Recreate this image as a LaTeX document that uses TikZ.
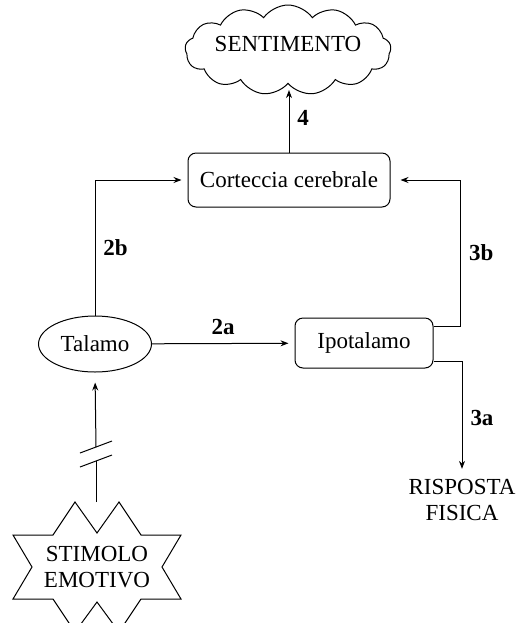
\documentclass[tikz,border=0pt]{standalone}
\usepackage{fontspec}
\setmainfont{Liberation Serif}
\usetikzlibrary{arrows.meta,shapes.geometric,shapes.symbols,positioning}

\begin{document}
\begin{tikzpicture}[
    x=0.5pt, y=-0.5pt,
    font=\fontsize{11.5}{13}\selectfont,
    box/.style={draw, rectangle, rounded corners=4pt, align=center,
                line width=0.5pt, inner sep=2pt},
    oval/.style={draw, ellipse, align=center, line width=0.5pt, inner sep=1pt},
    nuvola/.style={draw, cloud, cloud puffs=13, cloud puff arc=110,
                   cloud ignores aspect, align=center, line width=0.5pt,
                   inner sep=0pt, text depth=6pt},
    plain/.style={align=center, inner sep=2pt},
    lbl/.style={font=\fontsize{11.5}{13}\selectfont\bfseries, inner sep=4pt},
    arr/.style={-{Stealth[length=4pt,width=3pt]}, line width=0.5pt, shorten >=3pt},
    seg/.style={line width=0.5pt},
  ]
    \useasboundingbox (0,0) rectangle (518,623);

    \node[nuvola, minimum width=101pt, minimum height=45pt] (senti) at (288,50) {SENTIMENTO};
    \node[box, minimum width=101pt, minimum height=27pt] (cortex) at (289,180) {Corteccia cerebrale};
    \node[oval, minimum width=56.5pt, minimum height=28pt] (talamo) at (95,344) {Talamo};
    \node[box, minimum width=69pt, minimum height=25pt] (ipo) at (364,343) {Ipotalamo};
    \node[plain] (risposta) at (462,500) {RISPOSTA\\FISICA};
    \node[plain] (stimolo) at (97,567) {STIMOLO\\EMOTIVO};

    \draw[seg, shift={(stimolo.center)}]
      (-22,-65) -- (0,-34) -- (22,-65) -- (44,-32) -- (84,-32) -- (65,0)
      -- (84,32) -- (44,32) -- (22,65) -- (0,35) -- (-22,65) -- (-44,32)
      -- (-84,32) -- (-65,0) -- (-84,-32) -- (-44,-32) -- cycle;
    \coordinate (startop) at (96,502);
    \coordinate (brklo) at (96,461);
    \coordinate (brkhi) at (96,447);

    \draw[arr] (cortex.north) -- node[lbl, right]{4} (cortex.north |- senti.south);
    \draw[arr] (talamo.north) |- node[lbl, pos=0.25, right]{2b} (cortex.west);
    \draw[arr] (talamo) -- node[lbl, above]{2a} (ipo);
    \draw[arr, shorten >=5pt] ([yshift=8.5pt]ipo.east) -- ++(27,0)
      |- node[lbl, pos=0.25, right]{3b} (cortex.east);
    \draw[arr] ([yshift=-9pt]ipo.east) -| node[lbl, pos=0.75, right]{3a} (risposta.north);
    \draw[seg] (startop) -- (brklo);
    \draw[seg] ([shift={(-16,6)}]brklo) -- ([shift={(16,-6)}]brklo);
    \draw[seg] ([shift={(-16,6)}]brkhi) -- ([shift={(16,-6)}]brkhi);
    \draw[arr, shorten >=5pt] (brkhi) -- (talamo.south);
  \end{tikzpicture}
\end{document}
